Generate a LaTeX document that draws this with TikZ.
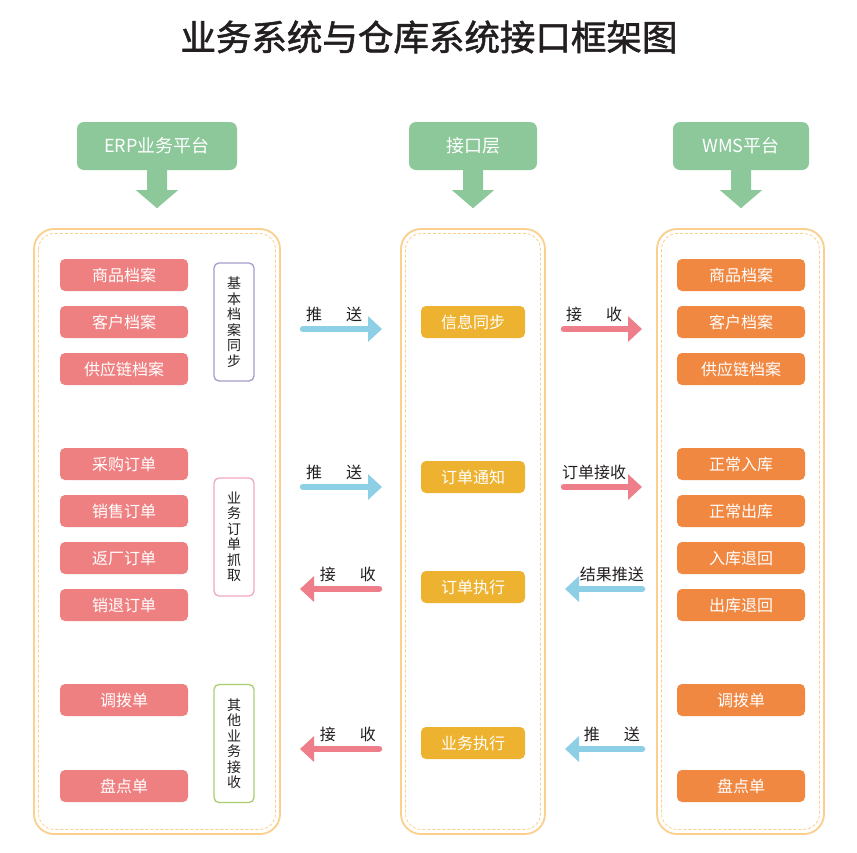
\documentclass[tikz,border=0pt]{standalone}
\usepackage{fontspec}
\setmainfont{Noto Sans CJK SC}
\newfontfamily\titlefont[FakeBold=1.6]{Noto Sans CJK SC}
\usetikzlibrary{arrows.meta}
\definecolor{hdrc}{HTML}{8CC899}
\definecolor{redbox}{HTML}{EF8081}
\definecolor{orgbox}{HTML}{F08842}
\definecolor{yelbox}{HTML}{EDB230}
\definecolor{bluarr}{HTML}{8DCFE4}
\definecolor{redarr}{HTML}{EE7F8A}
\definecolor{contc}{HTML}{FBCF8C}
\definecolor{purpc}{HTML}{A79CCB}
\definecolor{pinkc}{HTML}{F2A8BE}
\definecolor{grnc}{HTML}{A9CE6E}
\definecolor{txtc}{HTML}{231F20}
\tikzset{
  titlenode/.style={font=\titlefont\fontsize{35.5}{38}\selectfont, text=txtc},
  hdrbox/.style={fill=hdrc, rounded corners=7pt, minimum height=48pt, text=white, font=\fontsize{18}{20}\selectfont, inner sep=0pt},
  itembox/.style={rounded corners=5pt, minimum width=128pt, minimum height=32pt, text=white, font=\fontsize{16}{18}\selectfont, inner sep=0pt},
  erpbox/.style={itembox, fill=redbox},
  wmsbox/.style={itembox, fill=orgbox},
  midbox/.style={itembox, fill=yelbox, minimum width=104pt},
  vbox/.style={draw, line width=1.3pt, fill=white, rounded corners=5pt, minimum width=40pt, minimum height=118pt, align=center, text=txtc, font=\fontsize{14}{15.5}\selectfont, inner sep=0pt},
  contouter/.style={draw=contc, line width=1.8pt, rounded corners=20pt},
  continner/.style={draw=contc, line width=0.8pt, dashed, dash pattern=on 3pt off 2pt, rounded corners=16pt},
  fatarrow/.style={line width=6.5pt, line cap=round, -{Triangle[width=25pt,length=14pt]}},
  bluearrow/.style={fatarrow, draw=bluarr, fill=bluarr},
  redarrow/.style={fatarrow, draw=redarr, fill=redarr},
  albl/.style={text=txtc, font=\fontsize{16}{18}\selectfont, inner sep=0pt}
}
\newcommand{\downarr}[1]{\fill[hdrc] (#1.south) ++(-10,-2) -- ++(0,22) -- ++(-11,0) -- ++(21,18) -- ++(21,-18) -- ++(-11,0) -- ++(0,-22) -- cycle;}
\begin{document}
\begin{tikzpicture}[x=1pt,y=-1pt]
\useasboundingbox[fill=white] (0,0) rectangle (857,852);
% title
\node[titlenode] (title) at (429,37) {业务系统与仓库系统接口框架图};
% headers
\node[hdrbox, minimum width=160pt] (erph) at (157,146) {ERP业务平台};
\node[hdrbox, minimum width=128pt] (ifh) at (473,146) {接口层};
\node[hdrbox, minimum width=136pt] (wmsh) at (741,146) {WMS平台};
\downarr{erph}
\downarr{ifh}
\downarr{wmsh}
% containers
\draw[contouter] (34,229) rectangle (280,834);
\draw[continner] (38.5,233.5) rectangle (275.5,829.5);
\draw[contouter] (401,229) rectangle (545,834);
\draw[continner] (405.5,233.5) rectangle (540.5,829.5);
\draw[contouter] (657,229) rectangle (824,834);
\draw[continner] (661.5,233.5) rectangle (819.5,829.5);
% ERP items
\node[erpbox] (e1) at (124,275) {商品档案};
\node[erpbox] (e2) at (124,322) {客户档案};
\node[erpbox] (e3) at (124,369) {供应链档案};
\node[erpbox] (e4) at (124,464) {采购订单};
\node[erpbox] (e5) at (124,511) {销售订单};
\node[erpbox] (e6) at (124,558) {返厂订单};
\node[erpbox] (e7) at (124,605) {销退订单};
\node[erpbox] (e8) at (124,700) {调拨单};
\node[erpbox] (e9) at (124,786) {盘点单};
% vertical labels
\node[vbox, draw=purpc] (v1) at (234,322) {基\\本\\档\\案\\同\\步};
\node[vbox, draw=pinkc] (v2) at (234,537) {业\\务\\订\\单\\抓\\取};
\node[vbox, draw=grnc] (v3) at (234,743.5) {其\\他\\业\\务\\接\\收};
% middle
\node[midbox] (m1) at (473,322) {信息同步};
\node[midbox] (m2) at (473,477) {订单通知};
\node[midbox] (m3) at (473,587) {订单执行};
\node[midbox] (m4) at (473,743) {业务执行};
% WMS items
\node[wmsbox] (w1) at (741,275) {商品档案};
\node[wmsbox] (w2) at (741,322) {客户档案};
\node[wmsbox] (w3) at (741,369) {供应链档案};
\node[wmsbox] (w4) at (741,464) {正常入库};
\node[wmsbox] (w5) at (741,511) {正常出库};
\node[wmsbox] (w6) at (741,558) {入库退回};
\node[wmsbox] (w7) at (741,605) {出库退回};
\node[wmsbox] (w8) at (741,700) {调拨单};
\node[wmsbox] (w9) at (741,786) {盘点单};
% arrow coordinates
\coordinate (la1) at (303,329); \coordinate (lb1) at (382,329);
\coordinate (ra1) at (564,329); \coordinate (rb1) at (642,329);
\coordinate (la2) at (303,487); \coordinate (lb2) at (382,487);
\coordinate (ra2) at (564,487); \coordinate (rb2) at (642,487);
\coordinate (la3) at (379,589); \coordinate (lb3) at (300,589);
\coordinate (ra3) at (642,589); \coordinate (rb3) at (565,589);
\coordinate (la4) at (379,749); \coordinate (lb4) at (300,749);
\coordinate (ra4) at (642,749); \coordinate (rb4) at (565,749);
\draw[bluearrow] (la1) -- (lb1);
\draw[redarrow] (ra1) -- (rb1);
\draw[bluearrow] (la2) -- (lb2);
\draw[redarrow] (ra2) -- (rb2);
\draw[redarrow] (la3) -- (lb3);
\draw[bluearrow] (ra3) -- (rb3);
\draw[redarrow] (la4) -- (lb4);
\draw[bluearrow] (ra4) -- (rb4);
% arrow labels
\node[albl, anchor=west] (t1) at (306,314) {推\hspace{1.5em}送};
\node[albl, anchor=west] (t2) at (566,314) {接\hspace{1.5em}收};
\node[albl, anchor=west] (t3) at (306,472) {推\hspace{1.5em}送};
\node[albl, anchor=west] (t4) at (562,472) {订单接收};
\node[albl, anchor=east] (t5) at (376,574) {接\hspace{1.5em}收};
\node[albl, anchor=east] (t6) at (644,574) {结果推送};
\node[albl, anchor=east] (t7) at (376,734) {接\hspace{1.5em}收};
\node[albl, anchor=east] (t8) at (640,734) {推\hspace{1.5em}送};
\end{tikzpicture}
\end{document}
